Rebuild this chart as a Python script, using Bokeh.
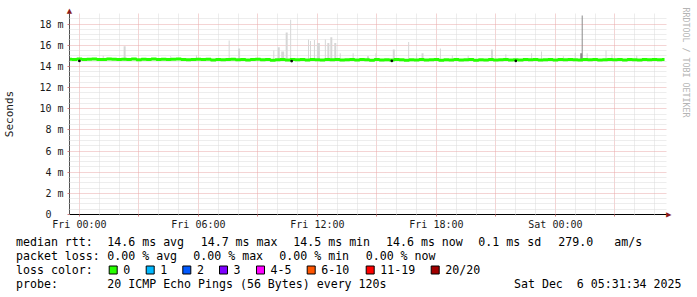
from bokeh.plotting import figure
from bokeh.layouts import column
from bokeh.models import Range1d, FixedTicker, Title
from bokeh.core.properties import value
from bokeh.embed import file_html
from bokeh.resources import INLINE

# ---------------- data ----------------
# time in hours relative to Fri 00:00
TIME_H = [
    -0.5, -0.25, 0, 0.25, 0.5, 0.75, 1, 1.25, 1.5, 1.75,
    2, 2.25, 2.5, 2.75, 3, 3.25, 3.5, 3.75, 4, 4.25,
    4.5, 4.75, 5, 5.25, 5.5, 5.75, 6, 6.25, 6.5, 6.75,
    7, 7.25, 7.5, 7.75, 8, 8.25, 8.5, 8.75, 9, 9.25,
    9.5, 9.75, 10, 10.25, 10.5, 10.75, 11, 11.25, 11.5, 11.75,
    12, 12.25, 12.5, 12.75, 13, 13.25, 13.5, 13.75, 14, 14.25,
    14.5, 14.75, 15, 15.25, 15.5, 15.75, 16, 16.25, 16.5, 16.75,
    17, 17.25, 17.5, 17.75, 18, 18.25, 18.5, 18.75, 19, 19.25,
    19.5, 19.75, 20, 20.25, 20.5, 20.75, 21, 21.25, 21.5, 21.75,
    22, 22.25, 22.5, 22.75, 23, 23.25, 23.5, 23.75, 24, 24.25,
    24.5, 24.75, 25, 25.25, 25.5, 25.75, 26, 26.25, 26.5, 26.75,
    27, 27.25, 27.5, 27.75, 28, 28.25, 28.5, 28.75, 29, 29.25,
    29.5,
]
# median rtt (ms)
MEDIAN_MS = [
    14.68, 14.66, 14.70, 14.64, 14.67, 14.69, 14.65, 14.66, 14.70, 14.67,
    14.64, 14.68, 14.66, 14.69, 14.63, 14.67, 14.65, 14.70, 14.66, 14.68,
    14.64, 14.67, 14.69, 14.65, 14.62, 14.66, 14.68, 14.64, 14.67, 14.61,
    14.66, 14.63, 14.65, 14.68, 14.62, 14.66, 14.60, 14.64, 14.67, 14.63,
    14.65, 14.58, 14.62, 14.66, 14.60, 14.64, 14.62, 14.65, 14.61, 14.66,
    14.63, 14.60, 14.64, 14.62, 14.65, 14.61, 14.63, 14.66, 14.60, 14.64,
    14.62, 14.58, 14.64, 14.61, 14.63, 14.60, 14.65, 14.62, 14.59, 14.63,
    14.61, 14.64, 14.60, 14.62, 14.65, 14.59, 14.63, 14.61, 14.64, 14.60,
    14.62, 14.65, 14.58, 14.63, 14.61, 14.64, 14.60, 14.62, 14.65, 14.61,
    14.63, 14.60, 14.64, 14.62, 14.66, 14.61, 14.63, 14.65, 14.60, 14.64,
    14.62, 14.66, 14.63, 14.61, 14.65, 14.62, 14.64, 14.60, 14.63, 14.66,
    14.62, 14.64, 14.61, 14.65, 14.63, 14.60, 14.64, 14.62, 14.65, 14.63,
    14.64,
]
# smoke spikes: time (h), max rtt (ms), span (h)
SPIKE_T = [2.28, 7.55, 8.05, 9.8, 10.05, 10.25, 10.45, 10.65, 11.55, 11.65,
           11.85, 12.05, 12.4, 12.55, 12.7, 12.9, 13.15, 13.8, 14.55, 14.95,
           15.85, 16.6, 17.0, 17.3, 18.2, 18.8, 20.8, 21.5, 22.8, 23.3,
           25.0, 25.6, 26.55, 26.85, 1.2, 4.6, 5.9, 19.6, 24.4, 28.1]
SPIKE_MAX = [15.9, 16.45, 15.7, 15.5, 15.8, 15.4, 17.2, 18.4, 16.55, 16.4,
             16.5, 16.2, 16.55, 16.2, 16.75, 16.2, 15.25, 15.25, 14.95, 15.25,
             15.6, 16.3, 15.25, 15.25, 15.7, 15.05, 15.6, 15.15, 15.25, 15.4,
             15.3, 15.25, 15.5, 15.15, 15.0, 14.95, 15.05, 15.0, 14.95, 15.0]
SPIKE_SPAN = [0.1, 0.05, 0.1, 0.05, 0.1, 0.15, 0.1, 0.05, 0.05, 0.05,
              0.05, 0.15, 0.05, 0.1, 0.1, 0.1, 0.05, 0.05, 0.1, 0.05,
              0.1, 0.05, 0.05, 0.1, 0.05, 0.05, 0.1, 0.05, 0.05, 0.05,
              0.05, 0.05, 0.05, 0.05, 0.05, 0.05, 0.05, 0.05, 0.05, 0.05]
DARK_T = [25.3, 25.35]
DARK_MAX = [15.25, 18.8]
DARK_SPAN = [0.1, 0.05]
BLACK_T = [0.0, 10.7, 15.75, 22.0]
BLACK_V = [14.52, 14.5, 14.52, 14.52]

X_MAJOR = [0, 3, 6, 9, 12, 15, 18, 21, 24, 27]
X_MINOR = [1, 2, 4, 5, 7, 8, 10, 11, 13, 14, 16, 17, 19, 20, 22, 23, 25, 26, 28, 29]
X_LABELS = {0: "Fri 00:00", 6: "Fri 06:00", 12: "Fri 12:00", 18: "Fri 18:00", 24: "Sat 00:00"}
Y_MAJOR = [0, 2, 4, 6, 8, 10, 12, 14, 16, 18]
Y_MINOR = [0.5, 1, 1.5, 2.5, 3, 3.5, 4.5, 5, 5.5, 6.5, 7, 7.5, 8.5, 9, 9.5, 10.5, 11, 11.5,
           12.5, 13, 13.5, 14.5, 15, 15.5, 16.5, 17, 17.5, 18.5, 19]
Y_LABELS = ["0\u00a0\u00a0", "2 m", "4 m", "6 m", "8 m", "10 m", "12 m", "14 m", "16 m", "18 m"]

LOSS_NAMES = ["0", "1", "2", "3", "4-5", "6-10", "11-19", "20/20"]
LOSS_COLORS = ["#26ff00", "#00b8ff", "#0059ff", "#7e00ff", "#ff00ff", "#ff5500", "#ff0000", "#a10000"]

LEGEND_ROW1 = ["median rtt:", "14.6 ms avg", "14.7 ms max", "14.5 ms min", "14.6 ms now",
               "0.1 ms sd", "279.0", "am/s"]
LEGEND_ROW2 = ["packet loss:", "0.00 % avg", "0.00 % max", "0.00 % min", "0.00 % now"]
LEGEND_ROW3 = ["loss color:"]
LEGEND_ROW4 = ["probe:", "20 ICMP Echo Pings (56 Bytes) every 120s"]
DATE = "Sat Dec  6 05:31:34 2025"
CREDIT = "RRDTOOL / TOBI OETIKER"

MONO = "DejaVu Sans Mono"


def nb(s):
    return s.replace(" ", "\u00a0")


# ---------------- main chart ----------------
p = figure(width=697, height=232, output_backend="svg", toolbar_location=None,
           x_range=Range1d(-0.5, 29.6), y_range=Range1d(0, 19),
           min_border_left=66, min_border_right=29, min_border_top=13, min_border_bottom=17)
p.background_fill_color = "white"
p.border_fill_color = "white"
p.outline_line_color = None
if "frame_align" in p.properties():
    p.frame_align = False

p.xaxis.ticker = FixedTicker(ticks=X_MAJOR, minor_ticks=X_MINOR)
p.xaxis.major_label_overrides = {t: X_LABELS.get(t, "") for t in X_MAJOR}
p.yaxis.ticker = FixedTicker(ticks=Y_MAJOR, minor_ticks=Y_MINOR)
p.yaxis.major_label_overrides = {t: l for t, l in zip(Y_MAJOR, Y_LABELS)}

for ax in (p.xaxis[0], p.yaxis[0]):
    ax.major_label_text_font = MONO
    ax.major_label_text_font_size = "10px"
    ax.major_label_text_color = "#1a1a1a"
    ax.major_tick_in = 0
    ax.major_tick_out = 2
    ax.minor_tick_in = 0
    ax.minor_tick_out = 1
    ax.major_tick_line_color = "#d08080"
    ax.minor_tick_line_color = "#cccccc"

p.xaxis.axis_line_color = "#000000"
p.xaxis.major_label_standoff = 2
p.yaxis.axis_line_color = "#505050"
p.yaxis.major_label_standoff = 4
p.yaxis.axis_label = "Seconds"
p.yaxis.axis_label_text_font = MONO
p.yaxis.axis_label_text_font_size = "11px"
p.yaxis.axis_label_text_font_style = "normal"
p.yaxis.axis_label_text_color = "#1a1a1a"
p.yaxis.axis_label_standoff = 20

for g in (p.xgrid[0], p.ygrid[0]):
    g.grid_line_color = "#e8a8a8"
    g.grid_line_dash = "1 1"
    g.grid_line_width = 1
    g.minor_grid_line_color = "#dadada"
    g.minor_grid_line_dash = "1 1"
    g.minor_grid_line_width = 1

# smoke
p.vbar(x=SPIKE_T, width=SPIKE_SPAN, bottom=14.55, top=SPIKE_MAX,
       fill_color="#d6d6d6", line_color=None)
p.vbar(x=DARK_T, width=DARK_SPAN, bottom=14.55, top=DARK_MAX,
       fill_color="#8a8a8a", line_color=None)

# median line
p.step(TIME_H, MEDIAN_MS, mode="center", line_color="#26ff00", line_width=3)
p.scatter(BLACK_T, BLACK_V, marker="square", size=1.5, color="#000000")

# axis arrow heads (as titles, so they can sit outside the plot frame)
ARROW = "#8b1a1a"
p.title.text = "\u25b2"
p.title.align = "left"
p.title.offset = -2.7
p.title.vertical_align = "bottom"
p.title.standoff = -3
p.title.text_font = "DejaVu Sans"
p.title.text_font_size = "7px"
p.title.text_font_style = "normal"
p.title.text_color = ARROW

p.add_layout(Title(text="\u25b2", align="right", offset=-3.2, vertical_align="bottom",
                   standoff=-3, text_font="DejaVu Sans", text_font_size="7px",
                   text_font_style="normal", text_color=ARROW), "right")
# side credit
p.add_layout(Title(text=CREDIT, align="left", offset=-6, vertical_align="middle",
                   text_font=MONO, text_font_size="8.3px",
                   text_font_style="normal", text_color="#b4b4b4", standoff=12), "right")

# ---------------- legend / stats block ----------------
q = figure(width=697, height=65, output_backend="svg", toolbar_location=None,
           x_range=Range1d(0, 697), y_range=Range1d(297, 232),
           min_border=0, x_axis_location=None, y_axis_location=None)
q.background_fill_color = "white"
q.border_fill_color = "white"
q.outline_line_color = None
q.xgrid.visible = False
q.ygrid.visible = False
if "frame_align" in q.properties():
    q.frame_align = False

ROW_Y = [241, 255, 269, 283]
ROW1_X = [15.5, 106.8, 200.2, 292.8, 385.5, 477.8, 557.8, 613.8]
ROW2_X = [15.5, 106.8, 192.8, 278.8, 365.2]
ROW3_X = [15.5]
ROW4_X = [15.5, 106.8]
FS = value("11.6px")

tx, ty, tt = [], [], []
for xs, texts, yy in ((ROW1_X, LEGEND_ROW1, ROW_Y[0]), (ROW2_X, LEGEND_ROW2, ROW_Y[1]),
                      (ROW3_X, LEGEND_ROW3, ROW_Y[2]), (ROW4_X, LEGEND_ROW4, ROW_Y[3])):
    for x, s in zip(xs, texts):
        tx.append(x)
        ty.append(yy)
        tt.append(nb(s))
q.text(x=tx, y=ty, text=tt, text_font=value(MONO), text_font_size=FS, text_color="#000000",
       text_align="left", text_baseline="middle")
q.text(x=[681], y=[ROW_Y[3]], text=[nb(DATE)], text_font=value(MONO), text_font_size=FS,
       text_color="#000000", text_align="right", text_baseline="middle")

SW_X = [108.7, 145.7, 182.3, 219, 256, 306.7, 365.7, 430.7]
q.quad(left=SW_X, right=[x + 8 for x in SW_X], top=[265.5] * 8, bottom=[273.5] * 8,
       fill_color=LOSS_COLORS, line_color="#000000", line_width=1)
q.text(x=[x + 14.1 for x in SW_X], y=[ROW_Y[2]] * 8, text=LOSS_NAMES,
       text_font=value(MONO), text_font_size=FS, text_color="#000000",
       text_align="left", text_baseline="middle")

layout = column(p, q, spacing=0)
open("out.html", "w").write(file_html(layout, INLINE))
